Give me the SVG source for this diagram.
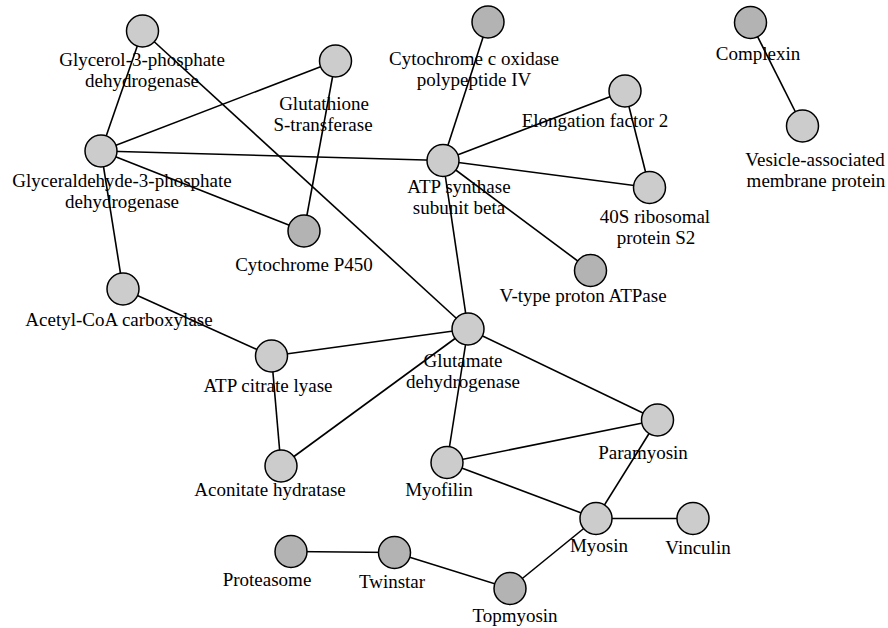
<svg xmlns="http://www.w3.org/2000/svg" width="888" height="628" viewBox="0 0 888 628">
<style>
.e{stroke:#000;stroke-width:1.6;fill:none}
.n{fill:#cccccc;stroke:#000;stroke-width:1.5}
.d{fill:#b3b3b3;stroke:#000;stroke-width:1.5}
text{font-family:"Liberation Serif","Times New Roman",serif;font-size:19px;fill:#000;text-anchor:middle}
</style>
<rect width="888" height="628" fill="#fff"/>
<g id="connectors">
<line class="e" x1="142.5" y1="31" x2="101" y2="151"/>
<line class="e" x1="142.5" y1="31" x2="468" y2="329"/>
<line class="e" x1="335.5" y1="61" x2="101" y2="151"/>
<line class="e" x1="335.5" y1="61" x2="304" y2="231"/>
<line class="e" x1="101" y1="151" x2="443" y2="160.5"/>
<line class="e" x1="101" y1="151" x2="304" y2="231"/>
<line class="e" x1="101" y1="151" x2="123" y2="289"/>
<line class="e" x1="123" y1="289" x2="271.5" y2="356"/>
<line class="e" x1="271.5" y1="356" x2="468" y2="329"/>
<line class="e" x1="271.5" y1="356" x2="281" y2="466"/>
<line class="e" x1="281" y1="466" x2="468" y2="329"/>
<line class="e" x1="488" y1="22" x2="443" y2="160.5"/>
<line class="e" x1="443" y1="160.5" x2="625" y2="91"/>
<line class="e" x1="443" y1="160.5" x2="649.5" y2="187.5"/>
<line class="e" x1="443" y1="160.5" x2="590.5" y2="270.5"/>
<line class="e" x1="443" y1="160.5" x2="468" y2="329"/>
<line class="e" x1="625" y1="91" x2="649.5" y2="187.5"/>
<line class="e" x1="750.5" y1="22.5" x2="802.5" y2="126"/>
<line class="e" x1="468" y1="329" x2="657.5" y2="420"/>
<line class="e" x1="468" y1="329" x2="447" y2="462.5"/>
<line class="e" x1="447" y1="462.5" x2="657.5" y2="420"/>
<line class="e" x1="447" y1="462.5" x2="596" y2="518.5"/>
<line class="e" x1="657.5" y1="420" x2="596" y2="518.5"/>
<line class="e" x1="596" y1="518.5" x2="693" y2="518.5"/>
<line class="e" x1="596" y1="518.5" x2="510" y2="588.5"/>
<line class="e" x1="291" y1="551.5" x2="394.5" y2="552.5"/>
<line class="e" x1="394.5" y1="552.5" x2="510" y2="588.5"/>
</g>
<g id="glycerol3p"><circle class="n" cx="142.5" cy="31" r="16"/><text x="142" y="66">Glycerol-3-phosphate</text><text x="142" y="87">dehydrogenase</text></g>
<g id="glutathione"><circle class="n" cx="335.5" cy="61" r="16"/><text x="324" y="110">Glutathione</text><text x="323" y="131">S-transferase</text></g>
<g id="gapdh"><circle class="n" cx="101" cy="151" r="16"/><text x="122" y="187">Glyceraldehyde-3-phosphate</text><text x="122" y="208">dehydrogenase</text></g>
<g id="cytc"><circle class="d" cx="488" cy="22" r="16"/><text x="474" y="65">Cytochrome c oxidase</text><text x="474" y="86">polypeptide IV</text></g>
<g id="atpsyn"><circle class="n" cx="443" cy="160.5" r="16"/><text x="459" y="193">ATP synthase</text><text x="459" y="214">subunit beta</text></g>
<g id="ef2"><circle class="n" cx="625" cy="91" r="16"/><text x="595" y="127">Elongation factor 2</text></g>
<g id="rps2"><circle class="n" cx="649.5" cy="187.5" r="16"/><text x="655" y="223">40S ribosomal</text><text x="656" y="244">protein S2</text></g>
<g id="vtype"><circle class="d" cx="590.5" cy="270.5" r="16"/><text x="583" y="302">V-type proton ATPase</text></g>
<g id="complexin"><circle class="d" cx="750.5" cy="22.5" r="16"/><text x="758" y="60">Complexin</text></g>
<g id="vamp"><circle class="n" cx="802.5" cy="126" r="16"/><text x="815" y="166">Vesicle-associated</text><text x="816" y="187">membrane protein</text></g>
<g id="p450"><circle class="d" cx="304" cy="231" r="16"/><text x="304" y="271">Cytochrome P450</text></g>
<g id="acc"><circle class="n" cx="123" cy="289" r="16"/><text x="119" y="326">Acetyl-CoA carboxylase</text></g>
<g id="acl"><circle class="n" cx="271.5" cy="356" r="16"/><text x="268" y="392">ATP citrate lyase</text></g>
<g id="gdh"><circle class="n" cx="468" cy="329" r="16"/><text x="463" y="367">Glutamate</text><text x="463" y="388">dehydrogenase</text></g>
<g id="aconitase"><circle class="n" cx="281" cy="466" r="16"/><text x="270" y="496">Aconitate hydratase</text></g>
<g id="myofilin"><circle class="n" cx="447" cy="462.5" r="16"/><text x="439" y="496">Myofilin</text></g>
<g id="paramyosin"><circle class="n" cx="657.5" cy="420" r="16"/><text x="643" y="459">Paramyosin</text></g>
<g id="myosin"><circle class="n" cx="596" cy="518.5" r="16"/><text x="599" y="552">Myosin</text></g>
<g id="vinculin"><circle class="n" cx="693" cy="518.5" r="16"/><text x="698" y="554">Vinculin</text></g>
<g id="proteasome"><circle class="d" cx="291" cy="551.5" r="16"/><text x="267" y="586">Proteasome</text></g>
<g id="twinstar"><circle class="d" cx="394.5" cy="552.5" r="16"/><text x="392" y="588">Twinstar</text></g>
<g id="topmyosin"><circle class="d" cx="510" cy="588.5" r="16"/><text x="515" y="622">Topmyosin</text></g>
</svg>
